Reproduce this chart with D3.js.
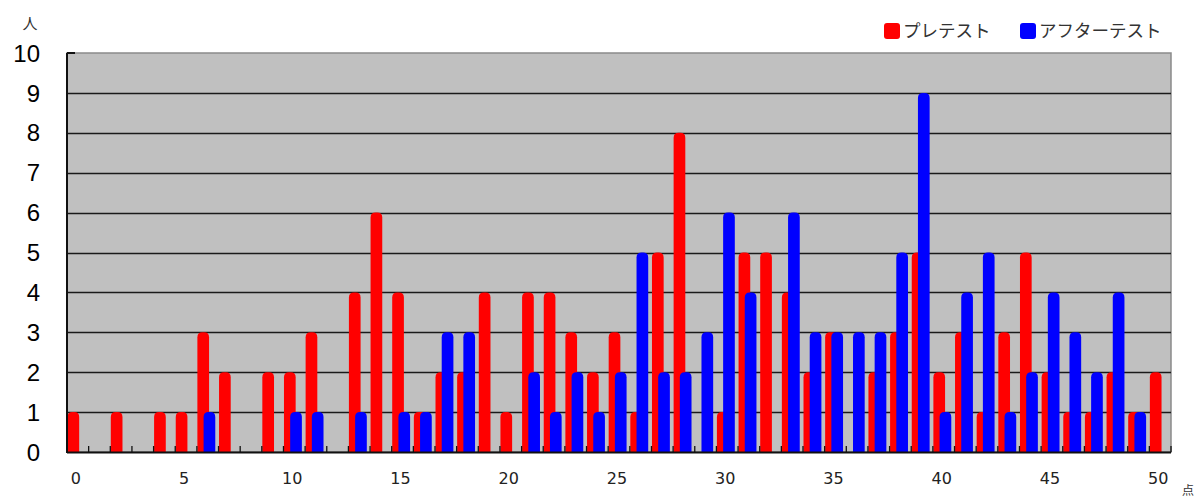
<!DOCTYPE html>
<html>
<head>
<meta charset="UTF-8">
<script src="https://cdnjs.cloudflare.com/ajax/libs/d3/7.8.5/d3.min.js"></script>
<style>
html, body { margin: 0; padding: 0; background: #ffffff; }
svg { display: block; }
</style>
</head>
<body>
<script>
// 得点 0..50 ごとの人数
var scores = d3.range(0, 51);
var preTest  = [1,0,1,0,1,1,3,2,0,2,2,3,0,4,6,4,1,2,2,4,1,4,4,3,2,3,1,5,8,0,1,5,5,4,2,3,0,2,3,5,2,3,1,3,5,2,1,1,2,1,2];
var postTest = [0,0,0,0,0,0,1,0,0,0,1,1,0,1,0,1,1,3,3,0,0,2,1,2,1,2,5,2,2,3,6,4,0,6,3,3,3,3,5,9,1,4,5,1,2,4,3,2,4,1,0];
var yTicks = d3.range(0, 11);
var xTicks = [0, 5, 10, 15, 20, 25, 30, 35, 40, 45, 50];
var seriesNames = ["プレテスト", "アフターテスト"];
var seriesColors = ["#ff0000", "#0000ff"];

var width = 1197, height = 497;
// note: "top" is a reserved window property, so use plot* names
var plotL = 67, plotR = 1171, plotT = 53, plotB = 452;

var svg = d3.select("body").append("svg")
    .attr("width", width)
    .attr("height", height);

var x = d3.scaleBand().domain(scores).range([plotL, plotR]).padding(0);
var y = d3.scaleLinear().domain([0, 10]).range([plotB, plotT]);
var bw = x.bandwidth();

// plot background
svg.append("rect")
    .attr("x", plotL).attr("y", plotT)
    .attr("width", plotR - plotL).attr("height", plotB - plotT)
    .attr("fill", "#c0c0c0")
    .attr("stroke", "#8a8a8a")
    .attr("stroke-width", 1.5);

// gridlines
svg.append("g").selectAll("line")
    .data(yTicks.filter(function(d) { return d > 0 && d < 10; }))
    .enter().append("line")
    .attr("x1", plotL).attr("x2", plotR)
    .attr("y1", function(d) { return Math.round(y(d)) + 0.5; })
    .attr("y2", function(d) { return Math.round(y(d)) + 0.5; })
    .attr("stroke", "#1a1a1a")
    .attr("stroke-width", 1.3);

// bar with rounded top
function barPath(x0, w, v) {
    var y0 = y(0), y1 = y(v), r = Math.min(5, w / 2, (y0 - y1) / 2);
    return "M" + x0 + "," + y0 +
        "V" + (y1 + r) +
        "Q" + x0 + "," + y1 + " " + (x0 + r) + "," + y1 +
        "H" + (x0 + w - r) +
        "Q" + (x0 + w) + "," + y1 + " " + (x0 + w) + "," + (y1 + r) +
        "V" + y0 + "Z";
}

var barW = bw * 0.54;
var offsets = [0.5, bw * 0.31];
[preTest, postTest].forEach(function(series, si) {
    svg.append("g").selectAll("path")
        .data(scores.filter(function(s) { return series[s] > 0; }))
        .enter().append("path")
        .attr("d", function(s) { return barPath(x(s) + offsets[si], barW, series[s]); })
        .attr("fill", seriesColors[si]);
});

// axis lines
svg.append("line")
    .attr("x1", plotL).attr("x2", plotL)
    .attr("y1", plotT).attr("y2", plotB + 1)
    .attr("stroke", "#111").attr("stroke-width", 2);
svg.append("line")
    .attr("x1", plotL).attr("x2", plotR)
    .attr("y1", plotB + 0.5).attr("y2", plotB + 0.5)
    .attr("stroke", "#111").attr("stroke-width", 2);
svg.append("line")
    .attr("x1", plotL).attr("x2", plotL + 8)
    .attr("y1", plotT).attr("y2", plotT)
    .attr("stroke", "#111").attr("stroke-width", 2);

// x tick marks at category boundaries
svg.append("g").selectAll("line")
    .data(scores.slice(1).concat([51]))
    .enter().append("line")
    .attr("x1", function(s) { return s === 51 ? plotR : x(s); })
    .attr("x2", function(s) { return s === 51 ? plotR : x(s); })
    .attr("y1", plotB).attr("y2", plotB - 6)
    .attr("stroke", "#111").attr("stroke-width", 1.3);

// y tick labels
svg.append("g").selectAll("text")
    .data(yTicks)
    .enter().append("text")
    .attr("x", 40)
    .attr("y", function(d) { return y(d); })
    .attr("dy", "0.36em")
    .attr("text-anchor", "end")
    .attr("font-family", "Liberation Sans, Arial, sans-serif")
    .attr("font-size", 24)
    .attr("fill", "#000")
    .text(function(d) { return d; });

// x tick labels
svg.append("g").selectAll("text")
    .data(xTicks)
    .enter().append("text")
    .attr("x", function(d) { return x(d) + bw / 2 - 2; })
    .attr("y", 484)
    .attr("text-anchor", "middle")
    .attr("font-family", "DejaVu Sans, sans-serif")
    .attr("font-size", 16)
    .attr("fill", "#222")
    .text(function(d) { return d; });

// unit labels
svg.append("text")
    .attr("x", 30).attr("y", 29)
    .attr("text-anchor", "middle")
    .attr("font-family", "Noto Sans CJK JP, sans-serif")
    .attr("font-size", 15)
    .attr("fill", "#333")
    .text("人");
svg.append("text")
    .attr("x", 1188).attr("y", 495)
    .attr("text-anchor", "middle")
    .attr("font-family", "Noto Sans CJK JP, sans-serif")
    .attr("font-size", 12)
    .attr("fill", "#333")
    .text("点");

// legend
var legendX = [884, 1020];
var legend = svg.append("g").selectAll("g")
    .data(seriesNames)
    .enter().append("g")
    .attr("transform", function(d, i) { return "translate(" + legendX[i] + ",23)"; });
legend.append("rect")
    .attr("width", 16).attr("height", 16)
    .attr("rx", 3)
    .attr("fill", function(d, i) { return seriesColors[i]; });
legend.append("text")
    .attr("x", 19).attr("y", 8)
    .attr("dy", "0.36em")
    .attr("font-family", "Noto Sans CJK JP, sans-serif")
    .attr("font-size", 17.5)
    .attr("fill", "#333")
    .text(function(d) { return d; });
</script>
</body>
</html>
